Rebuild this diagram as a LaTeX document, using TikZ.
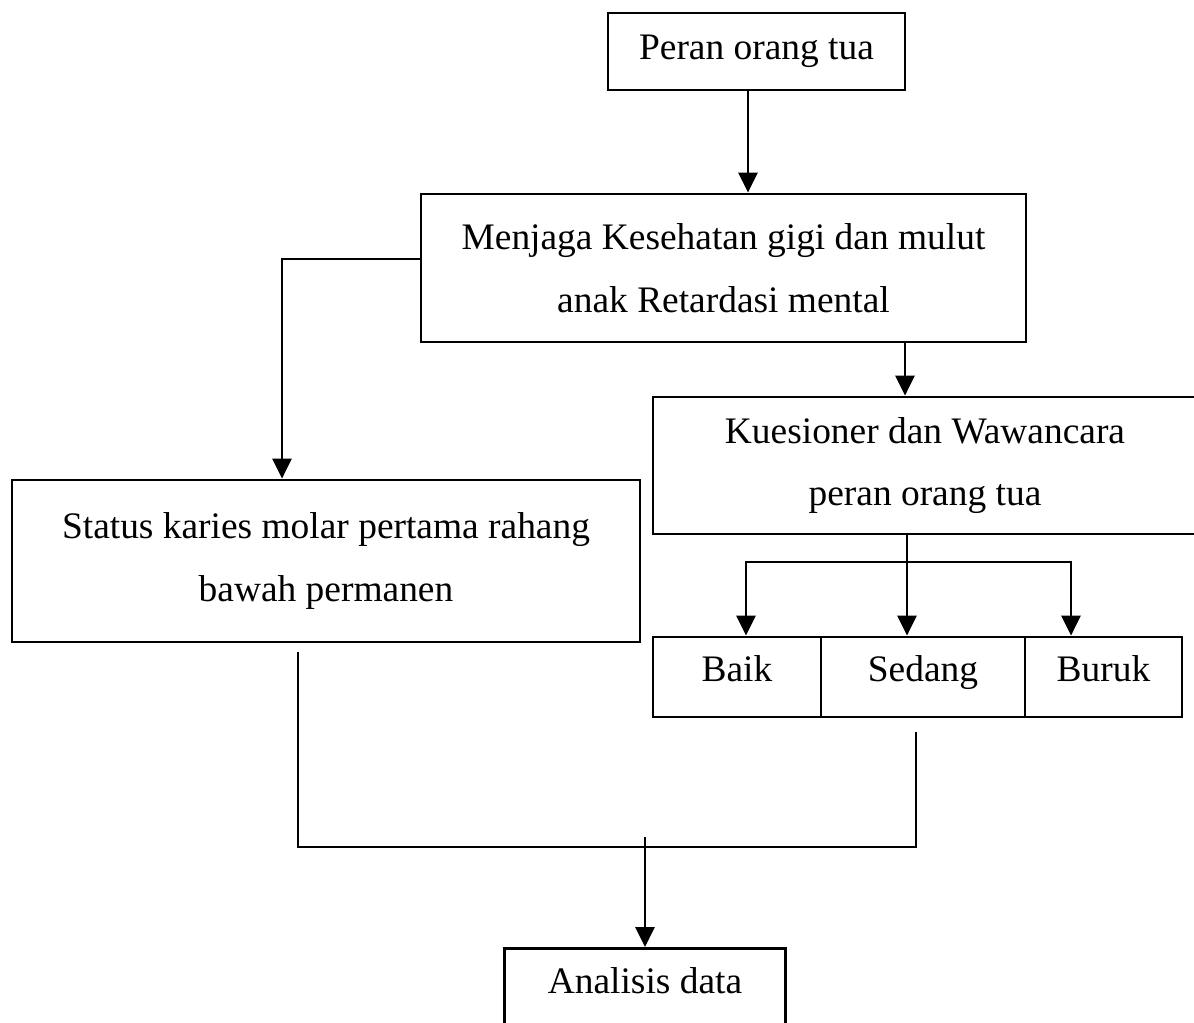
\documentclass[tikz,border=0pt]{standalone}
\usepackage{fontspec}
\setmainfont{Liberation Serif}
\usetikzlibrary{arrows.meta}

\begin{document}
\begin{tikzpicture}[x=0.02cm, y=-0.02cm, line width=1.6pt,
    kotak/.style={draw, align=center, inner sep=0pt,
      font=\fontsize{21.3}{35.7}\selectfont},
    pilihan/.style={kotak, minimum height=1.6cm, text height=1.4ex, text depth=0.4ex},
    panah/.style={-{Triangle[length=0.4cm,width=0.38cm]}}]
  \useasboundingbox (0,0) rectangle (1194,1022);
  \node[kotak, minimum width=5.94cm, minimum height=1.54cm] (peran) at (756.5,51.5)
  {Peran orang tua}; \node[kotak, minimum width=12.1cm, minimum height=2.96cm] (menjaga)
  at (723.5,268) {Menjaga Kesehatan gigi dan mulut\\anak Retardasi mental};
  \node[kotak, minimum width=12.56cm, minimum height=3.24cm] (status) at (326,561)
  {Status karies molar pertama rahang\\bawah permanen};
  \node[kotak, minimum width=10.88cm, minimum height=2.74cm] (kues) at (925,465.5)
  {Kuesioner dan Wawancara\\peran orang tua};
  \node[pilihan, minimum width=3.36cm] (baik) at (737,677) {Baik};
  \node[pilihan, minimum width=4.08cm] (sedang) at (923,677) {Sedang};
  \node[pilihan, minimum width=3.14cm] (buruk) at (1103.5,677) {Buruk};
  \node[kotak, anchor=north, minimum width=5.62cm, text height=0.9cm, text depth=1.2cm]
  (analisis) at (645,947) {Analisis data};
  \coordinate (cabang) at (907,562); \coordinate (gabung) at (645,847);
  \draw[panah] ([xshift=-0.17cm]peran.south) -- ([xshift=-0.17cm]peran.south |- menjaga.north);
  \draw[panah] ([yshift=0.18cm]menjaga.west) -| ([xshift=-0.88cm]status.north);
  \draw[panah] ([xshift=-0.4cm]kues.north |- menjaga.south) -- ([xshift=-0.4cm]kues.north);
  \draw[panah] ([xshift=-0.32cm]sedang.north |- kues.south) -- ([xshift=-0.32cm]sedang.north);
  \draw[panah] (cabang) -| ([xshift=0.18cm]baik.north);
  \draw[panah] (cabang) -| ([xshift=-0.65cm]buruk.north);
  \draw ([xshift=-0.56cm,yshift=-0.18cm]status.south) |- (gabung)
  -| ([xshift=-0.14cm,yshift=-0.28cm]sedang.south);
  \draw[panah] ([yshift=0.2cm]gabung) -- (analisis.north);
\end{tikzpicture}
\end{document}
